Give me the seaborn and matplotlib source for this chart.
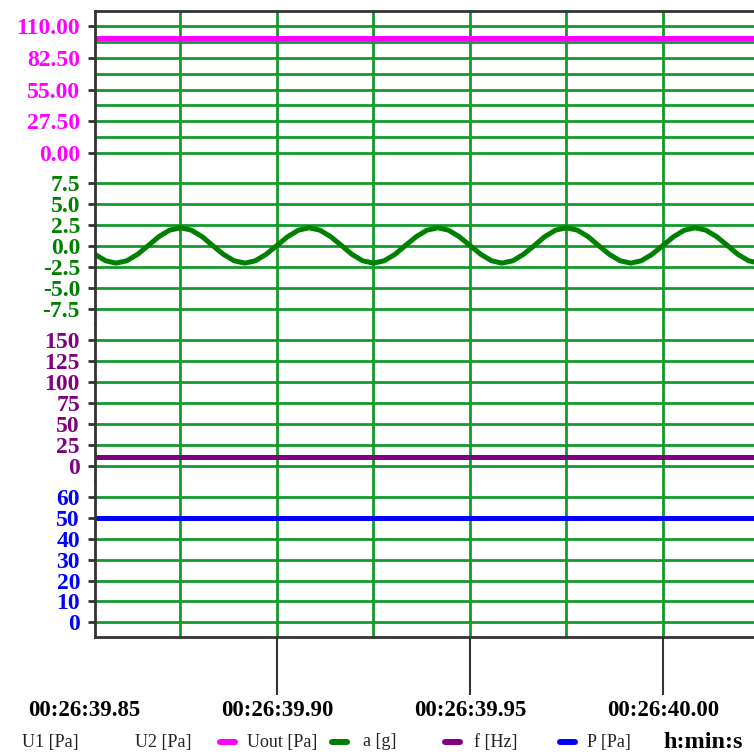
import numpy as np
import pandas as pd
import matplotlib
matplotlib.use("Agg")
import matplotlib.pyplot as plt
import seaborn as sns
from matplotlib.ticker import MultipleLocator, FixedLocator, NullLocator
from matplotlib.lines import Line2D
import matplotlib.transforms as mtransforms

# ---------------- data (time in ms after 00:26:39.850) ----------------
time_ms = [0.0, 2.8, 5.6, 8.3, 11.1, 13.9, 16.7, 19.4, 22.2, 25.0, 27.8, 30.6,
           33.3, 36.1, 38.9, 41.7, 44.4, 47.2, 50.0, 52.8, 55.6, 58.3, 61.1, 63.9,
           66.7, 69.4, 72.2, 75.0, 77.8, 80.6, 83.3, 86.1, 88.9, 91.7, 94.4, 97.2,
           100.0, 102.8, 105.6, 108.3, 111.1, 113.9, 116.7, 119.4, 122.2, 125.0, 127.8, 130.6,
           133.3, 136.1, 138.9, 141.7, 144.4, 147.2, 150.0, 152.8, 155.6, 158.3, 161.1, 163.9,
           166.7, 169.4, 172.2, 175.0]
accel_g = [0.05, -1.0, -1.77, -2.05, -1.77, -1.0, 0.05, 1.1, 1.87, 2.15, 1.87, 1.1,
           0.05, -1.0, -1.77, -2.05, -1.77, -1.0, 0.05, 1.1, 1.87, 2.15, 1.87, 1.1,
           0.05, -1.0, -1.77, -2.05, -1.77, -1.0, 0.05, 1.1, 1.87, 2.15, 1.87, 1.1,
           0.05, -1.0, -1.77, -2.05, -1.77, -1.0, 0.05, 1.1, 1.87, 2.15, 1.87, 1.1,
           0.05, -1.0, -1.77, -2.05, -1.77, -1.0, 0.05, 1.1, 1.87, 2.15, 1.87, 1.1,
           0.05, -1.0, -1.77, -2.05]
const_time_ms = [0.0, 180.0]
uout_pa = [100.0, 100.0]
f_hz = [10.5, 10.5]
p_pa = [50.0, 50.0]

uout_ticks = [0.0, 27.5, 55.0, 82.5, 110.0]
a_ticks = [-7.5, -5.0, -2.5, 0.0, 2.5, 5.0, 7.5]
f_ticks = [0, 25, 50, 75, 100, 125, 150]
p_ticks = [0, 10, 20, 30, 40, 50, 60]
time_tick_ms = [0, 50, 100, 150]
time_tick_labels = ["00:26:39.85", "00:26:39.90", "00:26:39.95", "00:26:40.00"]
legend_labels = ["U1 [Pa]", "U2 [Pa]", "Uout [Pa]", "a [g]", "f [Hz]", "P [Pa]"]
x_unit_label = "h:min:s"

# ---------------- style ----------------
sns.set_style("white")
plt.rcParams['font.family'] = ['Liberation Serif', 'DejaVu Serif']

MAGENTA = '#ff00ff'
GREEN = '#008000'
PURPLE = '#800080'
BLUE = '#0000ff'
GRID = '#139a2b'
SPINE = '#333333'

W, H = 754, 755
fig = plt.figure(figsize=(W / 100, H / 100), dpi=100)
L = 95
bands = [(11, 168), (168, 324.5), (324.5, 481.5), (481.5, 637)]
ylims = [(-12.99, 123.0), (-9.34, 9.25), (-18.45, 168.45), (-7.04, 67.42)]
tick_sets = [uout_ticks, a_ticks, f_ticks, p_ticks]
fmts = ["{:.2f}", "{:.1f}", "{:d}", "{:d}"]
colors = [MAGENTA, GREEN, PURPLE, BLUE]
series = [(const_time_ms, uout_pa), (time_ms, accel_g),
          (const_time_ms, f_hz), (const_time_ms, p_pa)]

axes = []
for i, ((top, bot), yl) in enumerate(zip(bands, ylims)):
    ax = fig.add_axes([L / W, 1 - bot / H, 1 - L / W, (bot - top) / H])
    axes.append(ax)
    ax.set_facecolor('white')
    xs, ys = series[i]
    sns.lineplot(x=xs, y=ys, ax=ax, color=colors[i], linewidth=3.6, legend=False)
    ax.set_xlim(2.85, 173.6)
    ax.set_ylim(*yl)
    ax.set_xlabel("")
    ax.set_ylabel("")
    ax.set_axisbelow(True)

    ax.yaxis.set_major_locator(FixedLocator(tick_sets[i]))
    ax.set_yticks(tick_sets[i], [fmts[i].format(v) for v in tick_sets[i]])
    if i == 0:
        ax.yaxis.set_minor_locator(MultipleLocator(13.75))
    else:
        ax.yaxis.set_minor_locator(NullLocator())
    ax.xaxis.set_major_locator(FixedLocator(time_tick_ms[1:]))
    ax.xaxis.set_minor_locator(MultipleLocator(25))

    ax.grid(True, which='both', color=GRID, linewidth=2)
    ax.tick_params(axis='y', which='major', direction='out', length=5, width=2,
                   color=SPINE, pad=5.8, labelsize=17, labelcolor=colors[i], left=True)
    ax.tick_params(axis='y', which='minor', length=0)
    for lab in ax.get_yticklabels():
        lab.set_fontweight('bold')

    for s in ['left', 'right', 'top', 'bottom']:
        ax.spines[s].set_visible(False)
    ax.spines['left'].set_visible(True)
    ax.spines['left'].set_color(SPINE)
    ax.spines['left'].set_linewidth(2)
    if i == 0:
        ax.spines['top'].set_visible(True)
        ax.spines['top'].set_color(SPINE)
        ax.spines['top'].set_linewidth(2)
    if i == 3:
        ax.spines['bottom'].set_visible(True)
        ax.spines['bottom'].set_color(SPINE)
        ax.spines['bottom'].set_linewidth(2)
        ax.set_xticks(time_tick_ms[1:], time_tick_labels[1:])
        ax.tick_params(axis='x', which='major', direction='out', length=41.8, width=1.5,
                       color=SPINE, pad=3.5, labelsize=16.5, labelcolor='black', bottom=True)
        ax.tick_params(axis='x', which='minor', length=0)
        for lab in ax.get_xticklabels():
            lab.set_fontweight('bold')
    else:
        ax.tick_params(axis='x', which='both', length=0, labelbottom=False)

# first time label sits left of the plotting area
ax = axes[3]
trans = mtransforms.blended_transform_factory(ax.transData, fig.transFigure)
label_top_px = 637 + (41.8 + 3.5) * 100 / 72
ax.text(time_tick_ms[0], 1 - label_top_px / H, time_tick_labels[0], transform=trans,
        ha='center', va='top', fontsize=16.5, fontweight='bold', color='black', clip_on=False)

# ---------------- legend row ----------------
legend_y = 1 - 742 / H
handle_x = [-9.6, 103.7, 217, 329, 442, 557]
text_x = [22, 135, 247, 363, 474, 587]
handle_colors = [None, None, MAGENTA, GREEN, PURPLE, BLUE]
for lab, hx, tx, hc in zip(legend_labels, handle_x, text_x, handle_colors):
    if hc is not None:
        fig.add_artist(Line2D([(hx + 3) / W, (hx + 18) / W], [legend_y, legend_y],
                              transform=fig.transFigure, color=hc, linewidth=4.3,
                              solid_capstyle='round'))
    fig.text(tx / W, legend_y, lab, ha='left', va='center', fontsize=13, color='#222222')
fig.text(743 / W, legend_y, x_unit_label, ha='right', va='center', fontsize=17.5,
         fontweight='bold', color='black')

fig.savefig('out.png', dpi=100)
